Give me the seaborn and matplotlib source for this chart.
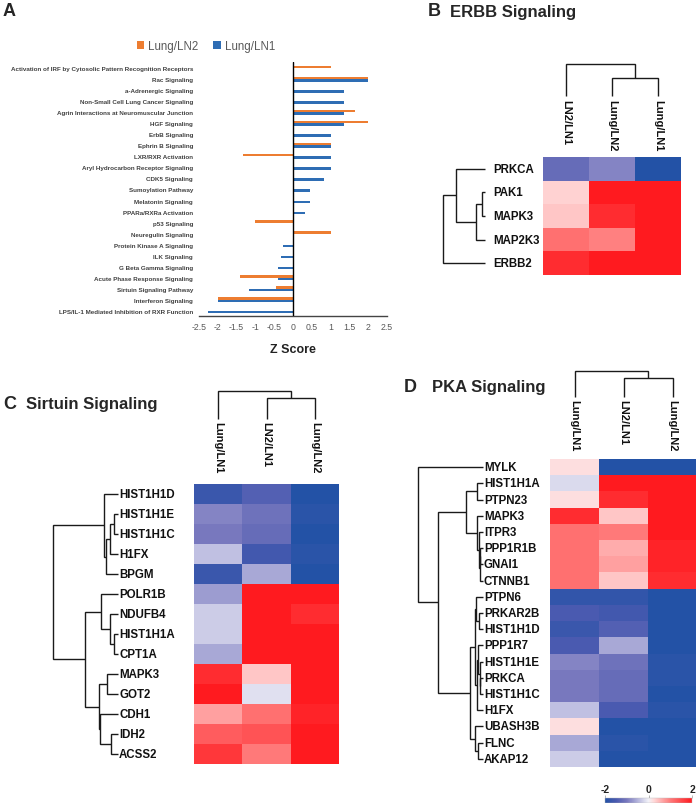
import numpy as np
import pandas as pd
import matplotlib
matplotlib.use('Agg')
import matplotlib.pyplot as plt
import seaborn as sns
from matplotlib.colors import LinearSegmentedColormap

# ---------------- data ----------------
pathways = [
    "Activation of IRF by Cytosolic Pattern Recognition Receptors",
    "Rac Signaling",
    "a-Adrenergic Signaling",
    "Non-Small Cell Lung Cancer Signaling",
    "Agrin Interactions at Neuromuscular Junction",
    "HGF Signaling",
    "ErbB Signaling",
    "Ephrin B Signaling",
    "LXR/RXR Activation",
    "Aryl Hydrocarbon Receptor Signaling",
    "CDK5 Signaling",
    "Sumoylation Pathway",
    "Melatonin Signaling",
    "PPARa/RXRa Activation",
    "p53 Signaling",
    "Neuregulin Signaling",
    "Protein Kinase A Signaling",
    "ILK Signaling",
    "G Beta Gamma Signaling",
    "Acute Phase Response Signaling",
    "Sirtuin Signaling Pathway",
    "Interferon Signaling",
    "LPS/IL-1 Mediated Inhibition of RXR Function",
]
z_lung_ln2 = [1.0, 2.0, 0, 0, 1.65, 2.0, 0, 1.0, -1.33, 0, 0, 0, 0, 0,
              -1.0, 1.0, 0, 0, 0, -1.42, -0.45, -2.0, 0]
z_lung_ln1 = [0, 2.0, 1.35, 1.35, 1.35, 1.35, 1.0, 1.0, 1.0, 1.0, 0.82, 0.45,
              0.45, 0.33, 0, 0, -0.26, -0.32, -0.39, -0.39, -1.16, -2.0, -2.25]
series_names = ["Lung/LN2", "Lung/LN1"]
x_ticks = [-2.5, -2, -1.5, -1, -0.5, 0, 0.5, 1, 1.5, 2, 2.5]
x_tick_labels = ["-2.5", "-2", "-1.5", "-1", "-0.5", "0", "0.5", "1", "1.5", "2", "2.5"]

# Panel B: ERBB signaling
b_cols = ["LN2/LN1", "Lung/LN2", "Lung/LN1"]
b_rows = ["PRKCA", "PAK1", "MAPK3", "MAP2K3", "ERBB2"]
b_ln2ln1 = [-1.2, 0.3, 0.4, 1.1, 1.8]
b_lungln2 = [-0.9, 2.0, 1.8, 0.95, 2.0]
b_lungln1 = [-2.0, 2.0, 2.0, 2.0, 2.0]
b_row_tree = [("PAK1", "MAPK3", 2.5), (0, "MAP2K3", 9), ("PRKCA", 1, 29), (2, "ERBB2", 42)]
b_col_tree = [("Lung/LN2", "Lung/LN1", 18), ("LN2/LN1", 0, 32)]

# Panel C: Sirtuin signaling
c_cols = ["Lung/LN1", "LN2/LN1", "Lung/LN2"]
c_rows = ["HIST1H1D", "HIST1H1E", "HIST1H1C", "H1FX", "BPGM", "POLR1B", "NDUFB4",
          "HIST1H1A", "CPT1A", "MAPK3", "GOT2", "CDH1", "IDH2", "ACSS2"]
c_lungln1 = [-1.7, -0.9, -1.0, -0.4, -1.7, -0.7, -0.3, -0.3, -0.6, 1.8, 2.0, 0.7, 1.3, 1.7]
c_ln2ln1 = [-1.4, -1.1, -1.2, -1.6, -0.6, 2.0, 2.0, 2.0, 2.0, 0.4, -0.15, 1.1, 1.4, 1.0]
c_lungln2 = [-2.0, -1.9, -2.0, -1.9, -2.0, 2.0, 1.8, 2.0, 2.0, 2.0, 2.0, 1.9, 2.0, 2.0]
c_row_tree = [("HIST1H1E", "HIST1H1C", 4), (0, "H1FX", 8.3), (1, "BPGM", 12.3),
              ("HIST1H1D", 2, 14.3), ("HIST1H1A", "CPT1A", 4), ("NDUFB4", 4, 8.3),
              ("POLR1B", 5, 17.3), ("MAPK3", "GOT2", 11), ("IDH2", "ACSS2", 7.3),
              ("CDH1", 8, 18.3), (7, 9, 19.3), (6, 10, 33.3), (3, 11, 65)]
c_col_tree = [("LN2/LN1", "Lung/LN2", 21), ("Lung/LN1", 0, 28)]

# Panel D: PKA signaling
d_cols = ["Lung/LN1", "LN2/LN1", "Lung/LN2"]
d_rows = ["MYLK", "HIST1H1A", "PTPN23", "MAPK3", "ITPR3", "PPP1R1B", "GNAI1", "CTNNB1",
          "PTPN6", "PRKAR2B", "HIST1H1D", "PPP1R7", "HIST1H1E", "PRKCA", "HIST1H1C",
          "H1FX", "UBASH3B", "FLNC", "AKAP12"]
d_lungln1 = [0.2, -0.2, 0.2, 1.8, 1.1, 1.1, 1.1, 1.1, -1.8, -1.5, -1.7, -1.5, -0.9,
             -1.0, -1.0, -0.4, 0.2, -0.6, -0.3]
d_ln2ln1 = [-2.0, 2.0, 1.8, 0.4, 1.0, 0.6, 0.7, 0.4, -1.8, -1.6, -1.4, -0.6, -1.1,
            -1.2, -1.2, -1.5, -2.0, -1.9, -2.0]
d_lungln2 = [-2.0, 2.0, 2.0, 2.0, 2.0, 1.9, 1.9, 1.8, -2.0, -2.0, -2.0, -2.0, -1.9,
             -1.9, -2.0, -1.9, -2.0, -2.0, -2.0]
d_row_tree = [("HIST1H1A", "PTPN23", 6), ("PPP1R1B", "GNAI1", 2.7), (1, "CTNNB1", 3.3),
              ("ITPR3", 2, 4), ("MAPK3", 3, 6), (0, 4, 17.3), ("PRKAR2B", "HIST1H1D", 4),
              ("PTPN6", 6, 6.7), ("PRKCA", "HIST1H1C", 2.7), ("HIST1H1E", 8, 3.3),
              ("PPP1R7", 9, 4.7), (10, "H1FX", 6), (7, 11, 8.3), ("FLNC", "AKAP12", 4.7),
              ("UBASH3B", 13, 8), (12, 14, 12.7), (5, 15, 45), ("MYLK", 16, 65)]
d_col_tree = [("LN2/LN1", "Lung/LN2", 19), ("Lung/LN1", 0, 26)]
cbar_ticks = [-2, 0, 2]

# ---------------- style ----------------
sns.set_theme(style="white")
plt.rcParams["font.family"] = ["Liberation Sans", "DejaVu Sans"]
plt.rcParams["axes.unicode_minus"] = False

W, H = 696, 804
fig = plt.figure(figsize=(W / 100, H / 100), dpi=100)


def ax_px(x0, y0, x1, y1):
    return fig.add_axes([x0 / W, 1 - y1 / H, (x1 - x0) / W, (y1 - y0) / H])


PT = 0.72  # px -> pt

cmap = LinearSegmentedColormap.from_list("bwr_custom", [
    (0.0, "#2352A6"), (0.125, "#4A5AB0"), (0.25, "#7878BE"), (0.375, "#B4B4DC"),
    (0.5, "#F2F2F8"), (0.56, "#FFDADA"), (0.75, "#FF7A7A"), (1.0, "#FF1A1F")])

ORANGE = "#ED7D31"
BLUE = "#2E6DB4"

# ---------------- Panel A ----------------
axA = ax_px(199, 63, 387, 317)
dfA = pd.DataFrame({
    "pathway": pathways * 2,
    "series": [series_names[0]] * len(pathways) + [series_names[1]] * len(pathways),
    "value": z_lung_ln2 + z_lung_ln1,
})
sns.barplot(data=dfA, x="value", y="pathway", hue="series", hue_order=series_names,
            order=pathways, palette=[ORANGE, BLUE], width=0.5, dodge=True,
            saturation=1, errorbar=None, linewidth=0, edgecolor="none", ax=axA)
axA.set_xlim(-2.5, 2.5)
axA.set_ylim(22.48, -0.57)
axA.axvline(0, color="black", lw=1.0, zorder=5)
for s in ["top", "right", "left"]:
    axA.spines[s].set_visible(False)
axA.spines["bottom"].set_color("#444444")
axA.spines["bottom"].set_linewidth(1.0)
axA.set_xticks(x_ticks)
axA.set_xticklabels(x_tick_labels, fontsize=6.3, color="#595959")
axA.tick_params(axis="x", length=0, pad=4)
axA.tick_params(axis="y", length=0, pad=4.3)
for lab in axA.get_yticklabels():
    lab.set_fontsize(4.5)
    lab.set_fontweight("bold")
    lab.set_color("#404040")
axA.set_ylabel("")
axA.set_xlabel("Z Score", fontsize=9, fontweight="bold", labelpad=9, color="#222222")
handles, labels = axA.get_legend_handles_labels()
if axA.get_legend() is not None:
    axA.get_legend().remove()
axA.legend(handles, labels, loc="center", bbox_to_anchor=(206 / W, 1 - 47 / H),
           bbox_transform=fig.transFigure, ncol=2, frameon=False, fontsize=8.3,
           handlelength=0.65, handleheight=0.65, handletextpad=0.35,
           columnspacing=1.3, labelcolor="#595959")


# ---------------- dendrogram helper ----------------
def draw_tree(ax, leaves, merges, orient):
    pos = {name: i + 0.5 for i, name in enumerate(leaves)}
    hgt = {name: 0.0 for name in leaves}
    for k, (a, b, h) in enumerate(merges):
        pa, pb, ha, hb = pos[a], pos[b], hgt[a], hgt[b]
        if orient == "row":
            xs, ys = [ha, h, h, hb], [pa, pa, pb, pb]
        else:
            xs, ys = [pa, pa, pb, pb], [ha, h, h, hb]
        ax.plot(xs, ys, color="#1a1a1a", lw=1.0, clip_on=False,
                solid_capstyle="butt", solid_joinstyle="miter")
        pos[k] = (pa + pb) / 2
        hgt[k] = h
    ax.set_axis_off()


def heat_panel(rows, cols, col_values, box, row_box, col_box, row_tree, col_tree,
               label_pad_px, col_pad_px, cbar_ax=None):
    x0, y0, x1, y1 = box
    df = pd.DataFrame(dict(zip(cols, col_values)), index=rows)
    ax = ax_px(x0, y0, x1, y1)
    if cbar_ax is not None:
        kws = dict(cbar=True, cbar_ax=cbar_ax,
                   cbar_kws=dict(orientation="horizontal", ticks=cbar_ticks))
    else:
        kws = dict(cbar=False)
    sns.heatmap(df, ax=ax, cmap=cmap, vmin=-2, vmax=2, linewidths=0,
                xticklabels=True, yticklabels=True, **kws)
    ax.set_xlabel("")
    ax.set_ylabel("")
    ax.xaxis.tick_top()
    ax.set_xticks(np.arange(len(cols)) + 0.5)
    ax.set_xticklabels(cols, rotation=-90, va="top", ha="center",
                       fontsize=8, fontweight="bold", color="#111111")
    ax.tick_params(axis="x", length=0, pad=col_pad_px * PT, top=False, bottom=False)
    ax.set_yticks(np.arange(len(rows)) + 0.5)
    ax.set_yticklabels(rows, rotation=0, ha="left", va="center",
                       fontsize=8.3, fontweight="bold", color="#111111")
    ax.tick_params(axis="y", length=0, pad=label_pad_px * PT, left=False)
    # row dendrogram
    rx0, rx1 = row_box
    axr = ax_px(rx0, y0, rx1, y1)
    draw_tree(axr, rows, row_tree, "row")
    axr.set_xlim(rx1 - rx0, 0)
    axr.set_ylim(len(rows), 0)
    # column dendrogram
    cy0, cy1 = col_box
    axc = ax_px(x0, cy0, x1, cy1)
    draw_tree(axc, cols, col_tree, "col")
    axc.set_xlim(0, len(cols))
    axc.set_ylim(0, cy1 - cy0)
    return ax


# Panel B
heat_panel(b_rows, b_cols, [b_ln2ln1, b_lungln2, b_lungln1],
           (543, 158, 681, 276), (436, 485), (60, 97), b_row_tree, b_col_tree,
           label_pad_px=50, col_pad_px=58)

# Panel C
heat_panel(c_rows, c_cols, [c_lungln1, c_ln2ln1, c_lungln2],
           (194, 485, 339, 765), (45, 118), (385, 420), c_row_tree, c_col_tree,
           label_pad_px=75, col_pad_px=63)

# Panel D (with colour bar)
cax = ax_px(605, 799, 692, 804)
heat_panel(d_rows, d_cols, [d_lungln1, d_ln2ln1, d_lungln2],
           (550, 460, 697, 768), (410, 483), (365, 398), d_row_tree, d_col_tree,
           label_pad_px=66, col_pad_px=60, cbar_ax=cax)
cax.xaxis.set_ticks_position("top")
cax.set_xticks(cbar_ticks)
cax.set_xticklabels(["-2", "0", "2"])
cax.tick_params(axis="x", length=2, width=0.6, color="#aaaaaa", pad=1,
                labelsize=7.5)
for lab in cax.get_xticklabels():
    lab.set_fontweight("bold")
    lab.set_color("#222222")
for s in cax.spines.values():
    s.set_linewidth(0.3)
    s.set_color("#bbbbbb")

# ---------------- panel letters and titles ----------------
fig.text(3 / W, 1 - 12 / H, "A", fontsize=13, fontweight="bold", va="center", ha="left")
fig.text(428 / W, 1 - 12 / H, "B", fontsize=13, fontweight="bold", va="center", ha="left")
fig.text(450 / W, 1 - 12 / H, "ERBB Signaling", fontsize=12, fontweight="bold",
         va="center", ha="left")
fig.text(3 / W, 1 - 405 / H, "C", fontsize=13, fontweight="bold", va="center", ha="left")
fig.text(26 / W, 1 - 405 / H, "Sirtuin Signaling", fontsize=12, fontweight="bold",
         va="center", ha="left")
fig.text(404 / W, 1 - 388 / H, "D", fontsize=13, fontweight="bold", va="center", ha="left")
fig.text(432 / W, 1 - 388 / H, "PKA Signaling", fontsize=12, fontweight="bold",
         va="center", ha="left")

fig.savefig("out.png", dpi=100, facecolor="white")
